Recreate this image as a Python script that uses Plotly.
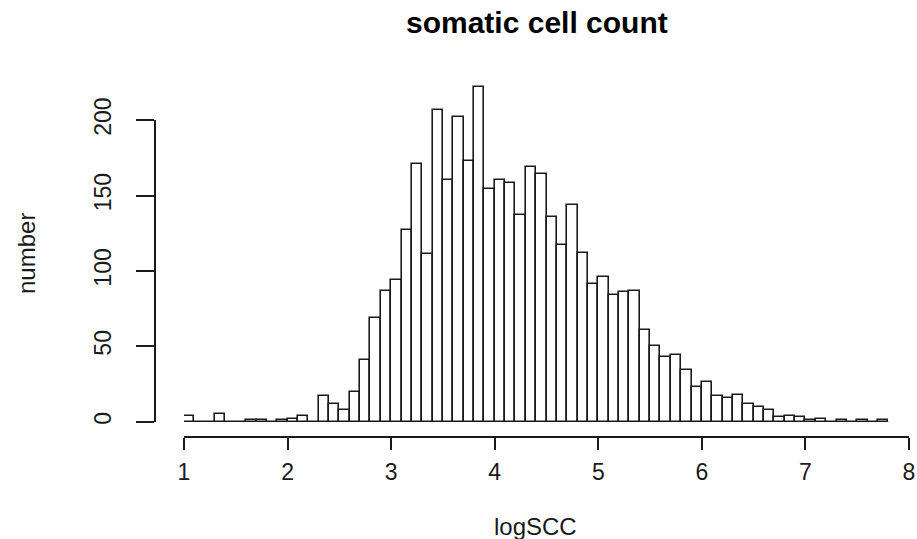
import plotly.graph_objects as go

# ---- data (histogram of logSCC, bin width 0.1 starting at 1.0) ----
bin_start = 1.0
bin_width = 0.1
counts = [4, 0, 0, 5, 0, 0, 1, 1, 0, 1,
          2, 4, 0, 17, 12, 8, 20, 41, 69, 87,
          94, 127, 171, 111, 207, 160, 202, 173, 222, 154,
          160, 158, 137, 169, 164, 136, 117, 144, 112, 91,
          96, 84, 86, 87, 61, 50, 43, 44, 34, 23,
          26, 17, 16, 18, 12, 10, 8, 3, 4, 3,
          1, 2, 0, 1, 0, 1, 0, 1]
x_ticks = [1, 2, 3, 4, 5, 6, 7, 8]
y_ticks = [0, 50, 100, 150, 200]
title_text = "somatic cell count"
x_label = "logSCC"
y_label = "number"

centers = [round(bin_start + bin_width * (i + 0.5), 4) for i in range(len(counts))]
edges_span = [bin_start, round(bin_start + bin_width * len(counts), 4)]

# ---- layout geometry (pixels) ----
W, H = 917, 539
px_zero = 421.7          # pixel row of y = 0
px_per = 1.508           # pixels per count
x_left_px, x_right_px = 184, 909
x_axis_px = 435.7
top_px = 60
yaxis_px = 155

def fy(p):
    return 1 - p / H

def fx(p):
    return p / W

y_lo = (px_zero - x_axis_px) / px_per
y_hi = (px_zero - top_px) / px_per

font_family = "Liberation Sans, Arial, sans-serif"
ink = "#1a1a1a"

fig = go.Figure()
fig.add_trace(go.Bar(
    x=centers, y=counts, width=bin_width,
    marker=dict(color="white", line=dict(color=ink, width=1.6)),
    xaxis="x", yaxis="y", hoverinfo="x+y", showlegend=False,
))
# baseline (zero-count bins drawn as flat rectangles in the original)
fig.add_trace(go.Scatter(
    x=edges_span, y=[0, 0], mode="lines",
    line=dict(color=ink, width=1.6),
    xaxis="x", yaxis="y2", cliponaxis=False, hoverinfo="skip", showlegend=False,
))

fig.update_layout(
    template="none",
    width=W, height=H, autosize=False,
    margin=dict(l=0, r=0, t=0, b=0, pad=0, autoexpand=False),
    paper_bgcolor="white", plot_bgcolor="rgba(0,0,0,0)",
    font=dict(family=font_family, color=ink),
    bargap=0,
    xaxis=dict(
        domain=[fx(x_left_px), fx(x_right_px)], range=[x_ticks[0], x_ticks[-1]],
        anchor="y", showgrid=False, zeroline=False, automargin=False,
        showline=True, linecolor=ink, linewidth=1.6,
        ticks="outside", ticklen=12, tickwidth=1.6, tickcolor=ink,
        tickvals=x_ticks, ticktext=[str(v) for v in x_ticks],
        tickfont=dict(size=23, family=font_family, color=ink),
        ticklabelstandoff=3,
    ),
    yaxis=dict(
        domain=[fy(x_axis_px), fy(top_px)], range=[y_lo, y_hi],
        visible=False, showgrid=False, zeroline=False, automargin=False,
    ),
    yaxis2=dict(
        domain=[fy(px_zero), fy(px_zero - y_ticks[-1] * px_per)],
        range=[y_ticks[0], y_ticks[-1]],
        anchor="free", position=fx(yaxis_px), side="left",
        showgrid=False, zeroline=False, automargin=False,
        showline=True, linecolor=ink, linewidth=1.6,
        ticks="outside", ticklen=18, tickwidth=1.6, tickcolor=ink,
        tickvals=y_ticks, ticktext=[str(v) for v in y_ticks],
        tickangle=-90,
        tickfont=dict(size=23, family=font_family, color=ink),
        ticklabelstandoff=16,
    ),
    annotations=[
        dict(text="<b>" + title_text + "</b>", x=fx(537), y=fy(23), xref="paper", yref="paper",
             xanchor="center", yanchor="middle", showarrow=False,
             font=dict(size=30, family=font_family, color="black")),
        dict(text=x_label, x=fx(535), y=fy(526), xref="paper", yref="paper",
             xanchor="center", yanchor="middle", showarrow=False,
             font=dict(size=24, family=font_family, color=ink)),
        dict(text=y_label, x=fx(26), y=fy(254), xref="paper", yref="paper",
             xanchor="center", yanchor="middle", showarrow=False, textangle=-90,
             font=dict(size=24, family=font_family, color=ink)),
    ],
)

fig.write_html("out.html", config={"displayModeBar": False},
               post_script="document.body.style.margin='0';document.body.style.overflow='hidden';")
